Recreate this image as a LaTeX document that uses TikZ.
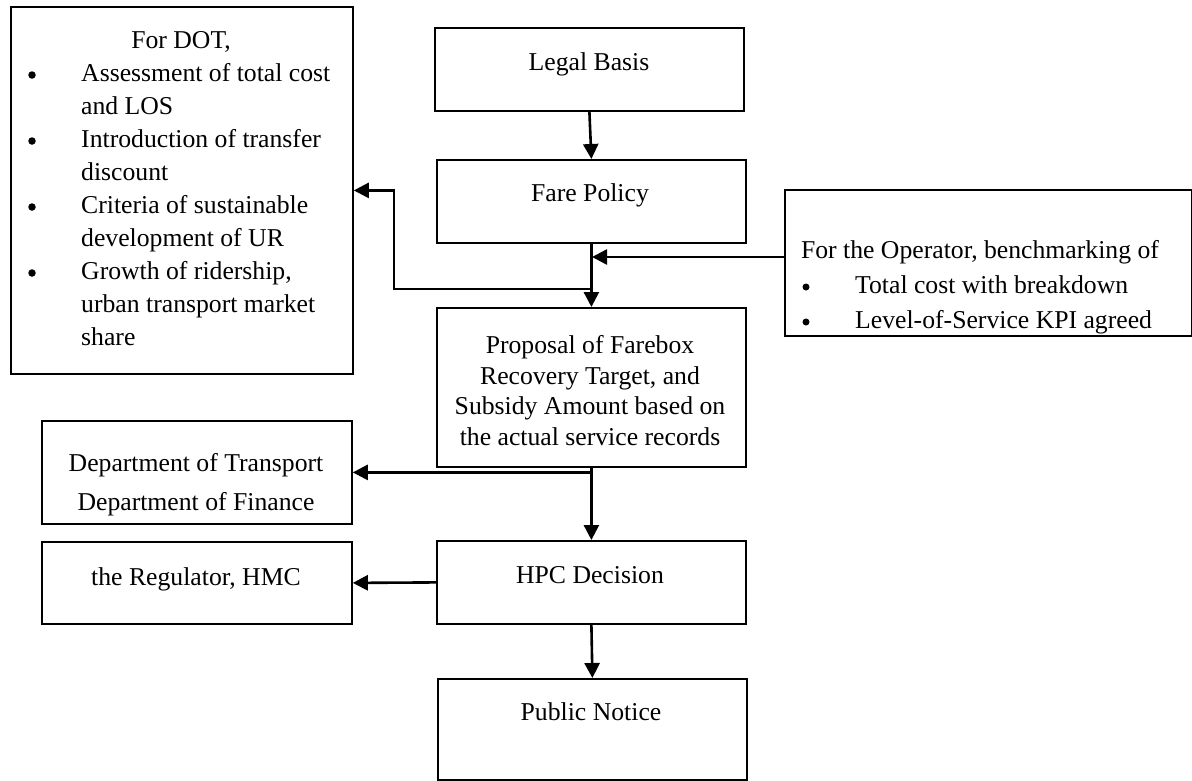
\documentclass[tikz,border=0pt]{standalone}
\usepackage{fontspec}
\setmainfont{Liberation Serif}
\usetikzlibrary{arrows.meta}

\tikzset{
  box/.style={draw, line width=1.8pt, inner sep=0pt, anchor=north west},
  txt/.style={inner sep=0pt, anchor=base, font=\fontsize{25.7}{30}\selectfont},
  ltxt/.style={txt, anchor=base west},
  bul/.style={circle, fill, inner sep=0pt, minimum size=7.5pt},
  arr/.style={line width=2.6pt, -{Triangle[length=15pt,width=15pt]}}
}

\begin{document}
\begin{tikzpicture}[x=1pt, y=-1pt]
\useasboundingbox (0,0) rectangle (1192,780);

% boxes
\node[box, minimum width=342pt, minimum height=367pt] (dot)   at (10,6)   {};
\node[box, minimum width=309pt, minimum height=83pt]  (legal) at (434,27) {};
\node[box, minimum width=309pt, minimum height=83pt]  (fare)  at (436,159) {};
\node[box, minimum width=309pt, minimum height=159pt] (prop)  at (436,307) {};
\node[box, minimum width=407pt, minimum height=146pt] (opr)   at (784,189) {};
\node[box, minimum width=310pt, minimum height=103pt] (dept)  at (41,420) {};
\node[box, minimum width=310pt, minimum height=82pt]  (reg)   at (41,541) {};
\node[box, minimum width=309pt, minimum height=83pt]  (hpc)   at (436,540) {};
\node[box, minimum width=309pt, minimum height=101pt] (pub)   at (437,678) {};

% DOT box text
\node[txt] (dot0) at (181,48) {For DOT,};
\node[bul] (dotb1) at (32,75)  {};
\node[ltxt] (dot1) at (81,81)  {Assessment of total cost};
\node[ltxt] (dot2) at (81,114) {and LOS};
\node[bul] (dotb3) at (32,141) {};
\node[ltxt] (dot3) at (81,147) {Introduction of transfer};
\node[ltxt] (dot4) at (81,180) {discount};
\node[bul] (dotb5) at (32,207) {};
\node[ltxt] (dot5) at (81,213) {Criteria of sustainable};
\node[ltxt] (dot6) at (81,246) {development of UR};
\node[bul] (dotb7) at (32,273) {};
\node[ltxt] (dot7) at (81,279) {Growth of ridership,};
\node[ltxt] (dot8) at (81,312) {urban transport market};
\node[ltxt] (dot9) at (81,345) {share};

% central column text
\node[txt] (legalt) at (589,70)  {Legal Basis};
\node[txt] (faret)  at (590,201) {Fare Policy};
\node[txt] (prop1)  at (590,353) {Proposal of Farebox};
\node[txt] (prop2)  at (590,384) {Recovery Target, and};
\node[txt] (prop3)  at (590,414) {Subsidy Amount based on};
\node[txt] (prop4)  at (590,445) {the actual service records};
\node[txt] (hpct)   at (590,583) {HPC Decision};
\node[txt] (pubt)   at (591,720) {Public Notice};

% operator box text
\node[txt] (opr0) at (980,258) {For the Operator, benchmarking of};
\node[bul, minimum size=7pt] (oprb1) at (806,287) {};
\node[ltxt] (opr1) at (855,293) {Total cost with breakdown};
\node[bul, minimum size=7pt] (oprb2) at (806,322) {};
\node[ltxt] (opr2) at (855,328) {Level-of-Service KPI agreed};

% left column text
\node[txt] (dept1) at (196,471) {Department of Transport};
\node[txt] (dept2) at (196,510) {Department of Finance};
\node[txt] (regt)  at (196,585) {the Regulator, HMC};

% connectors
\coordinate (bendA) at (394,289);
\coordinate (opin) at (592,257);
\draw[arr] (legal.south) -- (fare.north);
\draw[arr] (fare.south) -- (prop.north);
\draw[arr] (fare.south |- bendA) -- (bendA) |- (dot.east);
\draw[arr] (opr.west |- opin) -- (opin);
\draw[arr] (prop.south) -- (hpc.north);
\draw[arr] (prop.south |- dept.east) -- (dept.east);
\draw[arr] (hpc.west) -- (reg.east);
\draw[arr] (hpc.south) -- (pub.north);
\end{tikzpicture}
\end{document}
